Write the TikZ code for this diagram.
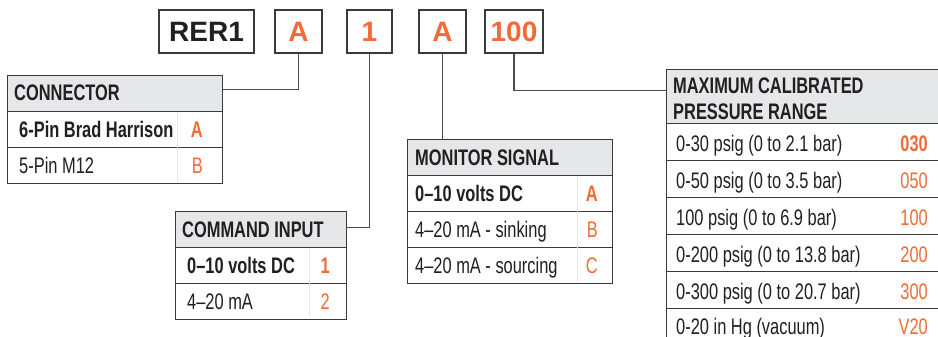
\documentclass[tikz,border=0pt]{standalone}
\usepackage{fontspec}
\setmainfont{Liberation Sans}
\newfontfamily\cond[FakeStretch=0.73]{Liberation Sans}
\definecolor{orng}{HTML}{F26A35}
\definecolor{bord}{HTML}{3A3A3A}
\definecolor{hdrfill}{HTML}{E6E7E8}
\definecolor{txt}{HTML}{231F20}
\definecolor{wire}{HTML}{4D4D4D}
\begin{document}
\begin{tikzpicture}[x=1pt,y=-1pt,
  topbox/.style={draw=bord,line width=1.3pt,fill=white,inner sep=0pt,font=\fontsize{28}{30}\selectfont\bfseries},
  cell/.style={draw=bord,line width=1.2pt,fill=white,inner sep=0pt,anchor=north west,minimum height=36pt},
  hdrcell/.style={cell,fill=hdrfill},
  divider/.style={draw=black!9,line width=0.7pt},
  htxt/.style={anchor=base west,inner sep=0pt,text=txt,font=\cond\fontsize{22.5}{26}\selectfont\bfseries},
  rtxt/.style={anchor=base west,inner sep=0pt,text=txt,font=\cond\fontsize{22.5}{24}\selectfont},
  btxt/.style={rtxt,font=\cond\fontsize{22.5}{24}\selectfont\bfseries},
  code/.style={anchor=base east,inner sep=0pt,text=orng,font=\cond\fontsize{22.5}{24}\selectfont},
  bcode/.style={code,font=\cond\fontsize{22.5}{24}\selectfont\bfseries},
  conn/.style={draw=wire,line width=1.1pt}]
\useasboundingbox (0,0) rectangle (938,337);
\begin{scope}
\clip (0,0) rectangle (938,337);
% top code boxes
\node[topbox,minimum width=95pt,minimum height=43pt,text=txt] (bR) at (206.5,31.5) {RER1};
\node[topbox,minimum width=47pt,minimum height=43pt,text=orng] (bA) at (298.5,31.5) {A};
\node[topbox,minimum width=45pt,minimum height=43pt,text=orng] (b1) at (369.5,31.5) {1};
\node[topbox,minimum width=47pt,minimum height=43pt,text=orng] (bA2) at (442.5,31.5) {A};
\node[topbox,minimum width=58pt,minimum height=43pt,text=orng] (b100) at (514,31.5) {100};

% CONNECTOR table
\node[hdrcell,minimum width=215pt] (con0) at (7,75) {};
\node[cell,minimum width=215pt] (con1) at (7,111) {};
\node[cell,minimum width=215pt] (con2) at (7,147) {};
\draw[divider] (177,112) -- (177,182);
\node[htxt] (con0t) at (14,101) {CONNECTOR};
\node[btxt] (con1t) at (19,137) {6-Pin Brad Harrison};
\node[bcode] (con1c) at (203,137) {A};
\node[rtxt] (con2t) at (19,173) {5-Pin M12};
\node[code] (con2c) at (203,173) {B};

% COMMAND INPUT table
\node[hdrcell,minimum width=171pt] (cmd0) at (175,211) {};
\node[cell,minimum width=171pt] (cmd1) at (175,247) {};
\node[cell,minimum width=171pt] (cmd2) at (175,283) {};
\draw[divider] (309,248) -- (309,317);
\node[htxt] (cmd0t) at (182,237) {COMMAND INPUT};
\node[btxt] (cmd1t) at (187,273) {0–10 volts DC};
\node[bcode] (cmd1c) at (330,273) {1};
\node[rtxt] (cmd2t) at (187,309) {4–20 mA};
\node[code] (cmd2c) at (330,309) {2};

% MONITOR SIGNAL table
\node[hdrcell,minimum width=205pt] (mon0) at (407,139) {};
\node[cell,minimum width=205pt] (mon1) at (407,175) {};
\node[cell,minimum width=205pt] (mon2) at (407,211) {};
\node[cell,minimum width=205pt] (mon3) at (407,247) {};
\draw[divider] (577,176) -- (577,282);
\node[htxt] (mon0t) at (415,165) {MONITOR SIGNAL};
\node[btxt] (mon1t) at (415,201) {0–10 volts DC};
\node[bcode] (mon1c) at (598,201) {A};
\node[rtxt] (mon2t) at (415,237) {4–20 mA - sinking};
\node[code] (mon2c) at (598,237) {B};
\node[rtxt] (mon3t) at (415,273) {4–20 mA - sourcing};
\node[code] (mon3c) at (598,273) {C};

% PRESSURE table
\node[hdrcell,minimum width=300pt,minimum height=54pt] (pr0) at (666,69) {};
\node[cell,minimum width=300pt,minimum height=37pt] (pr1) at (666,123) {};
\node[cell,minimum width=300pt,minimum height=37pt] (pr2) at (666,160) {};
\node[cell,minimum width=300pt,minimum height=37pt] (pr3) at (666,197) {};
\node[cell,minimum width=300pt,minimum height=37pt] (pr4) at (666,234) {};
\node[cell,minimum width=300pt,minimum height=37pt] (pr5) at (666,271) {};
\node[cell,minimum width=300pt,minimum height=37pt] (pr6) at (666,308) {};
\node[htxt] (pr0t) at (673,93) {MAXIMUM CALIBRATED};
\node[htxt] (pr0u) at (673,119) {PRESSURE RANGE};
\node[rtxt] (pr1t) at (676,151) {0-30 psig (0 to 2.1 bar)};
\node[bcode] (pr1c) at (928,151) {030};
\node[rtxt] (pr2t) at (676,188) {0-50 psig (0 to 3.5 bar)};
\node[code] (pr2c) at (928,188) {050};
\node[rtxt] (pr3t) at (676,225) {100 psig (0 to 6.9 bar)};
\node[code] (pr3c) at (928,225) {100};
\node[rtxt] (pr4t) at (676,262) {0-200 psig (0 to 13.8 bar)};
\node[code] (pr4c) at (928,262) {200};
\node[rtxt] (pr5t) at (676,299) {0-300 psig (0 to 20.7 bar)};
\node[code] (pr5c) at (928,299) {300};
\node[rtxt] (pr6t) at (676,334) {0-20 in Hg (vacuum)};
\node[code] (pr6c) at (928,334) {V20};

% connectors
\draw[conn] (bA.south) |- ([yshift=4pt]con0.east);
\draw[conn] (b1.south) |- ([yshift=2pt]cmd0.east);
\draw[conn] (bA2.south) -- (bA2.south |- mon0.north);
\draw[conn] (b100.south) |- ([yshift=6pt]pr0.west);
\end{scope}
\end{tikzpicture}
\end{document}
